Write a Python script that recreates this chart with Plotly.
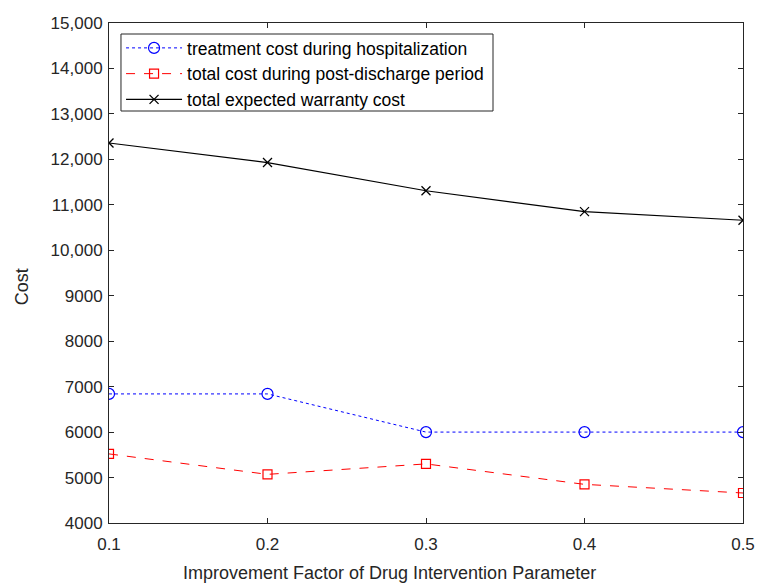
import plotly.graph_objects as go

x_vals = [0.1, 0.2, 0.3, 0.4, 0.5]
hospital_cost = [6840, 6840, 6000, 6000, 6000]
post_discharge_cost = [5520, 5070, 5300, 4850, 4660]
warranty_cost = [12360, 11930, 11310, 10850, 10660]

y_tickvals = [4000, 5000, 6000, 7000, 8000, 9000, 10000, 11000, 12000, 13000, 14000, 15000]
y_ticktext = ["4000", "5000", "6000", "7000", "8000", "9000", "10,000", "11,000", "12,000", "13,000", "14,000", "15,000"]
x_tickvals = [0.1, 0.2, 0.3, 0.4, 0.5]
x_ticktext = ["0.1", "0.2", "0.3", "0.4", "0.5"]

FONT = "Liberation Sans, Arial, sans-serif"
AX = "#262626"

fig = go.Figure()
fig.add_trace(go.Scatter(
    x=x_vals, y=hospital_cost, mode="lines+markers",
    name="treatment cost during hospitalization",
    line=dict(color="rgb(0,0,255)", dash="dot", width=1),
    marker=dict(symbol="circle-open", size=11, color="rgb(0,0,255)", line=dict(width=1.2)),
))
fig.add_trace(go.Scatter(
    x=x_vals, y=post_discharge_cost, mode="lines+markers",
    name="total cost during post-discharge period",
    line=dict(color="rgb(255,0,0)", dash="dash", width=1),
    marker=dict(symbol="square-open", size=9, color="rgb(255,0,0)", line=dict(width=1.2)),
))
fig.add_trace(go.Scatter(
    x=x_vals, y=warranty_cost, mode="lines+markers",
    name="total expected warranty cost",
    line=dict(color="black", width=1.2),
    marker=dict(symbol="x-thin-open", size=9, color="black", line=dict(width=1.3, color="black")),
))

axis_common = dict(
    showline=True, linecolor=AX, linewidth=1, mirror="allticks",
    ticks="inside", ticklen=5, tickcolor=AX, showgrid=False, zeroline=False,
    tickfont=dict(family=FONT, size=17, color=AX), automargin=False,
)

fig.update_layout(
    width=759, height=584,
    margin=dict(l=109, r=16, t=23, b=61, autoexpand=False),
    paper_bgcolor="white", plot_bgcolor="white",
    font=dict(family=FONT, color=AX),
    xaxis=dict(range=[0.1, 0.5], tickvals=x_tickvals, ticktext=x_ticktext,
               ticklabelstandoff=6, **axis_common),
    yaxis=dict(range=[4000, 15000], tickvals=y_tickvals, ticktext=y_ticktext,
               ticklabelstandoff=2, **axis_common),
    legend=dict(
        x=0.019, y=0.986, xanchor="left", yanchor="top",
        bgcolor="rgba(0,0,0,0)", borderwidth=0,
        font=dict(family=FONT, size=17.5, color="black"),
        tracegroupgap=0, itemwidth=56,
    ),
    showlegend=True,
    shapes=[
        dict(type="rect", xref="paper", yref="paper", x0=0.0189, x1=0.6057, y0=0.824, y1=0.978,
             line=dict(color=AX, width=1), fillcolor="white", layer="below"),
    ],
    annotations=[
        dict(text="Improvement Factor of Drug Intervention Parameter", xref="paper", yref="paper",
             x=0.443, y=-0.1, xanchor="center", yanchor="middle", showarrow=False,
             font=dict(family=FONT, size=18, color=AX)),
        dict(text="Cost", xref="paper", yref="paper", x=-0.137, y=0.472, textangle=-90,
             xanchor="center", yanchor="middle", showarrow=False,
             font=dict(family=FONT, size=18, color=AX)),
    ],
)

fig.write_html(
    "out.html",
    config={"displayModeBar": False},
    post_script="document.body.style.margin='0';document.body.style.overflow='hidden';",
)
